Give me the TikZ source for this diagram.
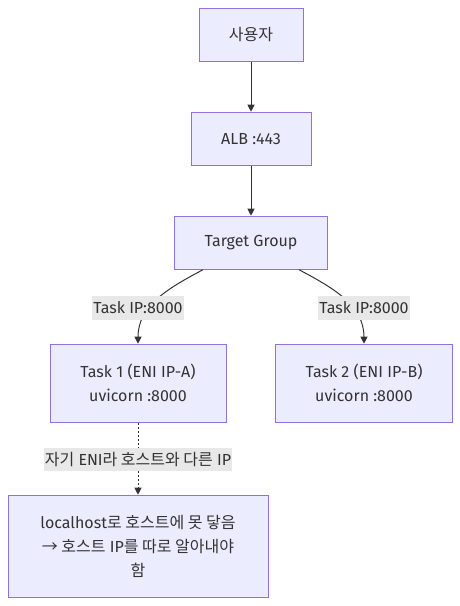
\documentclass[tikz,border=0pt]{standalone}
\usepackage{fontspec}
\setmainfont{Fira Sans}
\newfontfamily\kr{Noto Sans CJK KR}
\usetikzlibrary{positioning}
\usetikzlibrary{arrows.meta}
\definecolor{boxfill}{HTML}{ECECFF}
\definecolor{boxline}{HTML}{9370DB}
\definecolor{edgecol}{HTML}{333333}
\definecolor{labelbg}{HTML}{E8E8E8}

\tikzset{
  box/.style={draw=boxline, fill=boxfill, line width=1pt, minimum height=53pt,
    align=center, text=edgecol, font=\fontsize{16}{24}\selectfont},
  edge/.style={-{Triangle[length=7pt,width=7pt]}, draw=edgecol, line width=1pt},
  elabel/.style={fill=labelbg, text=edgecol, inner xsep=1pt, inner ysep=0pt,
    minimum height=24pt, font=\fontsize{16}{24}\selectfont}
}

\begin{document}
\begin{tikzpicture}
        \useasboundingbox (0,0) rectangle (460pt,-606pt);
        % nodes %
        \node[box, minimum width=104pt] (user) at (251pt,-34.7pt) {\kr 사용자};
        \node[box, minimum width=120pt, below=50pt of user] (alb) {ALB :443};
        \node[box, minimum width=153pt, below=50pt of alb] (tg) {Target Group};
        \node[box, minimum width=176pt, minimum height=78pt, below=74pt of tg, xshift=-113pt] (task1) {Task 1 (ENI IP-A)\\uvicorn :8000};
        \node[box, minimum width=177pt, minimum height=78pt, below=74pt of tg, xshift=113pt] (task2) {Task 2 (ENI IP-B)\\uvicorn :8000};
        \node[box, minimum width=260pt, minimum height=102pt, below=72pt of task1] (local) {localhost{\kr 로 호스트에 못 닿음}\\{\kr → 호스트} IP{\kr 를 따로 알아내야}\\{\kr 함}};

        % edges %
        \draw[edge] (user) -- (alb);
        \draw[edge] (alb) -- (tg);
        \draw[edge] ([xshift=-48pt]tg.south) to[out=208, in=90] (task1.north);
        \draw[edge] ([xshift=48pt]tg.south) to[out=-28, in=90] (task2.north);
        \draw[edge, dash pattern=on 2pt off 2pt] (task1) -- (local);

        % labels %
        \node[elabel, above=23.8pt of task1] (lab1) {Task IP:8000};
        \node[elabel, above=23.8pt of task2] (lab2) {Task IP:8000};
        \node[elabel, minimum height=23pt, above=23.8pt of local] (lab3) {{\kr 자기} ENI{\kr 라 호스트와 다른} IP};
\end{tikzpicture}
\end{document}
